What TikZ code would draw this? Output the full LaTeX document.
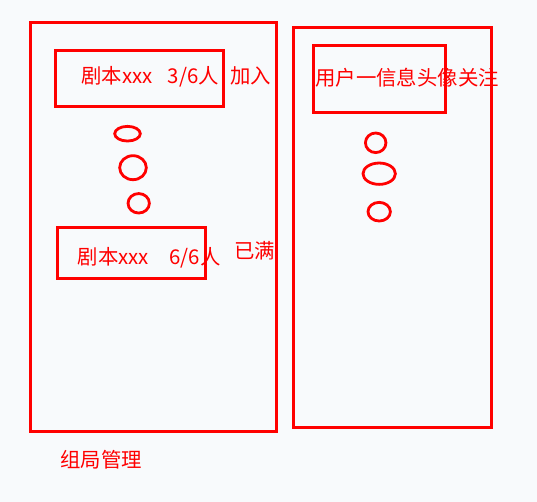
\documentclass[tikz,border=0pt]{standalone}
\usepackage{fontspec}
\setmainfont{Noto Sans CJK SC}
\definecolor{bg}{RGB}{248,250,252}
\definecolor{rd}{RGB}{255,0,0}
\begin{document}
\begin{tikzpicture}[x=0.75pt,y=-0.75pt,
  frame/.style={draw=rd, line width=2.25pt},
  oval/.style={draw=rd, line width=2.1pt},
  lbl/.style={text=rd, font=\fontsize{15.3}{18}\selectfont, inner sep=0pt, anchor=west}]
\fill[bg] (0,0) rectangle (537,502);
\useasboundingbox (0,0) rectangle (537,502);
% outer panels
\draw[frame] (30.7,22.5) rectangle (276,432);
\draw[frame] (293,27.5) rectangle (491.3,428);
% inner boxes
\draw[frame] (55.8,50.7) rectangle (223,107);
\draw[frame] (57.5,227.5) rectangle (205.3,279);
\draw[frame] (313.7,45.7) rectangle (445.3,113);
% ellipses left
\draw[oval] (127.5,133.7) ellipse [x radius=9.6pt, y radius=5.5pt];
\draw[oval] (133,167.7) ellipse [x radius=10pt, y radius=9pt];
\draw[oval] (138.7,203.3) ellipse [x radius=8pt, y radius=7.3pt];
% ellipses right
\draw[oval] (375.7,142.8) ellipse [x radius=7.7pt, y radius=7.35pt];
\draw[oval] (379.2,173.7) ellipse [x radius=12.15pt, y radius=8pt];
\draw[oval] (379.2,211.7) ellipse [x radius=8.4pt, y radius=7pt];
% labels
\node[lbl] (t1) at (81,77) {剧本xxx\hspace{0.75em}3/6人};
\node[lbl] (join) at (230,75.5) {加入};
\node[lbl] (u1) at (315,77.5) {用户一信息头像关注};
\node[lbl] (t2) at (77.5,257.5) {剧本xxx\hspace{1em}6/6人};
\node[lbl] (full) at (234,250.5) {已满};
\node[lbl] (title) at (60,459.5) {组局管理};
\end{tikzpicture}
\end{document}
